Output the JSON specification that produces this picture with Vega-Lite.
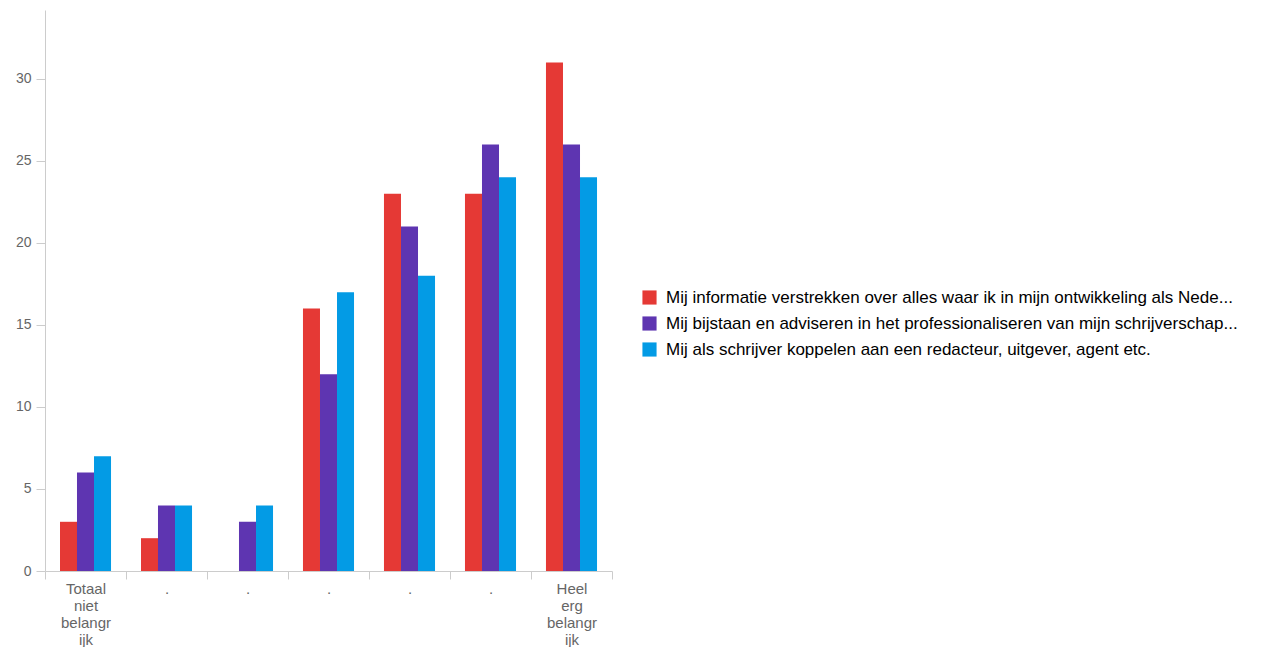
{
  "$schema": "https://vega.github.io/schema/vega-lite/v6.json",
  "width": 567,
  "height": 561,
  "autosize": {"type": "none"},
  "padding": {"left": 45, "top": 10, "right": 672, "bottom": 76},
  "background": "white",
  "config": {"view": {"stroke": null}, "font": "Liberation Sans"},
  "data": {
    "values": [
      {"cat": "c1", "serie": "s1", "value": 3},
      {"cat": "c1", "serie": "s2", "value": 6},
      {"cat": "c1", "serie": "s3", "value": 7},
      {"cat": "c2", "serie": "s1", "value": 2},
      {"cat": "c2", "serie": "s2", "value": 4},
      {"cat": "c2", "serie": "s3", "value": 4},
      {"cat": "c3", "serie": "s1", "value": 0},
      {"cat": "c3", "serie": "s2", "value": 3},
      {"cat": "c3", "serie": "s3", "value": 4},
      {"cat": "c4", "serie": "s1", "value": 16},
      {"cat": "c4", "serie": "s2", "value": 12},
      {"cat": "c4", "serie": "s3", "value": 17},
      {"cat": "c5", "serie": "s1", "value": 23},
      {"cat": "c5", "serie": "s2", "value": 21},
      {"cat": "c5", "serie": "s3", "value": 18},
      {"cat": "c6", "serie": "s1", "value": 23},
      {"cat": "c6", "serie": "s2", "value": 26},
      {"cat": "c6", "serie": "s3", "value": 24},
      {"cat": "c7", "serie": "s1", "value": 31},
      {"cat": "c7", "serie": "s2", "value": 26},
      {"cat": "c7", "serie": "s3", "value": 24}
    ]
  },
  "mark": {"type": "bar"},
  "encoding": {
    "x": {
      "field": "cat",
      "type": "nominal",
      "sort": ["c1", "c2", "c3", "c4", "c5", "c6", "c7"],
      "scale": {"paddingInner": 0, "paddingOuter": 0},
      "axis": {
        "title": null,
        "labelAngle": 0,
        "tickBand": "extent",
        "domainColor": "#cccccc",
        "tickColor": "#cccccc",
        "tickSize": 8,
        "labelColor": "#666666",
        "labelFontSize": 15,
        "labelLineHeight": 17,
        "labelPadding": 2,
        "labelExpr": "datum.value == 'c1' ? ['Totaal', 'niet', 'belangr', 'ijk'] : datum.value == 'c7' ? ['Heel', 'erg', 'belangr', 'ijk'] : (datum.value == 'c2' || datum.value == 'c3' || datum.value == 'c4' || datum.value == 'c5' || datum.value == 'c6') ? '.' : ''"
      }
    },
    "xOffset": {
      "field": "serie",
      "type": "nominal",
      "sort": ["s1", "s2", "s3"],
      "scale": {"paddingInner": 0, "paddingOuter": 0.88}
    },
    "y": {
      "field": "value",
      "type": "quantitative",
      "scale": {"domain": [0, 34.2], "nice": false},
      "axis": {
        "title": null,
        "values": [0, 5, 10, 15, 20, 25, 30],
        "grid": false,
        "domainColor": "#cccccc",
        "tickColor": "#cccccc",
        "tickSize": 9,
        "labelColor": "#666666",
        "labelFontSize": 14,
        "labelPadding": 5
      }
    },
    "color": {
      "field": "serie",
      "type": "nominal",
      "sort": ["s1", "s2", "s3"],
      "scale": {"domain": ["s1", "s2", "s3"], "range": ["#e53935", "#5e35b1", "#039be5"]},
      "legend": {
        "title": null,
        "orient": "none",
        "legendX": 596,
        "legendY": 279,
        "symbolType": "square",
        "symbolSize": 200,
        "symbolStrokeWidth": 0,
        "labelFontSize": 17,
        "labelColor": "#000000",
        "labelLimit": 700,
        "labelOffset": 8,
        "rowPadding": 8,
        "labelExpr": "datum.value == 's1' ? '\u2007\u2007\u2007\u2007Mij informatie verstrekken over alles waar ik in mijn ontwikkeling als Nede...' : datum.value == 's2' ? '\u2007Mij bijstaan en adviseren in het professionaliseren van mijn schrijverschap...' : 'Mij als schrijver koppelen aan een redacteur, uitgever, agent etc.'"
      }
    }
  }
}
